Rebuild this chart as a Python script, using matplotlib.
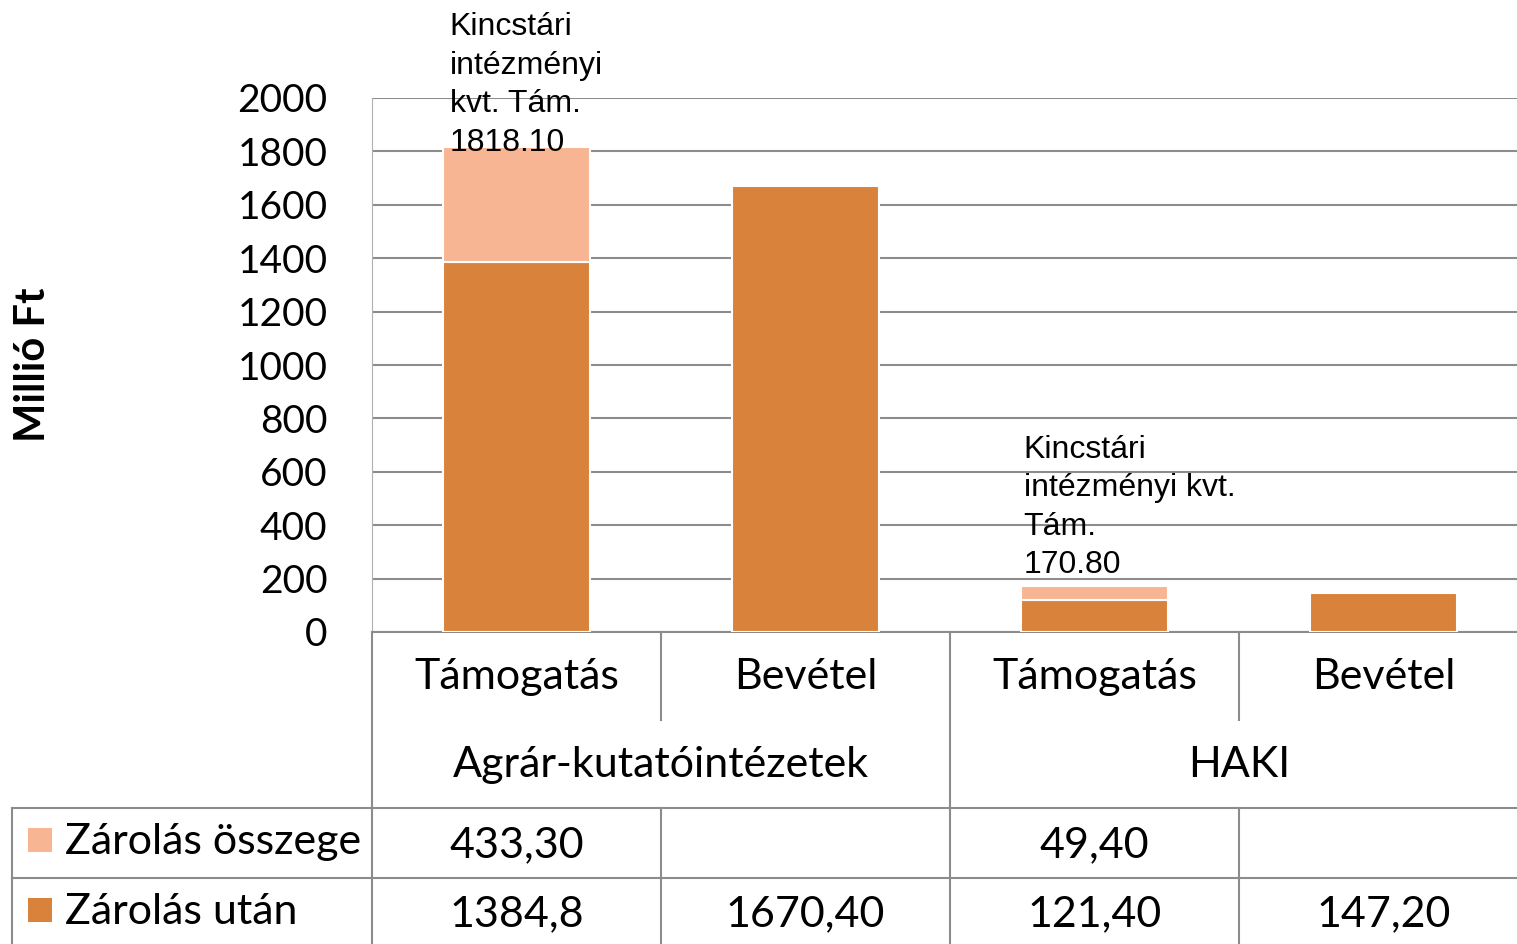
import numpy as np
import matplotlib.pyplot as plt
from matplotlib.lines import Line2D
from matplotlib.patches import Rectangle
import matplotlib.transforms as mtransforms

# data (Millió Ft)
categories = ['Támogatás', 'Bevétel', 'Támogatás', 'Bevétel']
groups = ['Agrár-kutatóintézetek', 'HAKI']
series_names = ['Zárolás összege', 'Zárolás után']
zarolas_utan = [1384.8, 1670.4, 121.4, 147.2]
zarolas_osszege = [433.3, 0.0, 49.4, 0.0]
table_utan = ['1384,8', '1670,40', '121,40', '147,20']
table_osszege = ['433,30', '', '49,40', '']
yticks = list(range(0, 2001, 200))

dark = '#D9823B'
light = '#F8B593'
grid_col = '#8c8c8c'

W, H = 1517, 944
fig = plt.figure(figsize=(W / 100, H / 100), dpi=100)


def fx(px):
    return px / W


def fy(py):
    return 1 - py / H


ax = fig.add_axes([fx(372), fy(632), 1156 / W, 534 / H])
x = np.arange(len(categories))
bw = 0.512

ax.bar(x, zarolas_utan, width=bw, color=dark, edgecolor='white', linewidth=1.5, zorder=3)
for i, v in enumerate(zarolas_osszege):
    if v > 0:
        ax.bar(x[i], v, bottom=zarolas_utan[i], width=bw, color=light,
               edgecolor='white', linewidth=1.5, zorder=3)

ax.set_xlim(-0.5, 3.5)
ax.set_ylim(0, 2000)
ax.set_yticks(yticks)
ax.set_xticks([])
ax.yaxis.grid(True, color=grid_col, linewidth=1.5)
ax.set_axisbelow(True)
for s in ['top', 'right']:
    ax.spines[s].set_visible(False)
ax.spines['left'].set_color('#b0b0b0')
ax.spines['bottom'].set_color(grid_col)
ax.spines['bottom'].set_linewidth(1.5)
ax.tick_params(axis='y', length=0, pad=32, labelsize=28)
for lab in ax.get_yticklabels():
    lab.set_fontfamily('Lato')

fig.text(fx(33), fy(365), 'Millió Ft', rotation=90, fontweight='bold', fontsize=30,
         family='Lato', ha='center', va='center')

# total labels on the stacked bars
totals = [u + o for u, o in zip(zarolas_utan, zarolas_osszege)]
ax.annotate('Kincstári\nintézményi\nkvt. Tám.\n%.2f' % totals[0],
            xy=(x[0] - bw / 2, totals[0]), xytext=(7, -11), textcoords='offset pixels',
            ha='left', va='bottom', fontsize=23, family='Liberation Sans',
            linespacing=1.37, annotation_clip=False)
ax.annotate('Kincstári\nintézményi kvt.\nTám.\n%.2f' % totals[2],
            xy=(x[2] - bw / 2, totals[2]), xytext=(3, 6), textcoords='offset pixels',
            ha='left', va='bottom', fontsize=23, family='Liberation Sans',
            linespacing=1.37, annotation_clip=False)

# data table below the axis
tb = mtransforms.blended_transform_factory(ax.transData, fig.transFigure)


def vline(xd, y0, y1):
    fig.add_artist(Line2D([xd, xd], [fy(y0), fy(y1)], transform=tb, color=grid_col, lw=1.5))


def hline(x0, y):
    fig.add_artist(Line2D([fx(x0), 1], [fy(y), fy(y)], transform=fig.transFigure,
                          color=grid_col, lw=1.5))


vline(-0.5, 632, 944)
vline(1.5, 632, 944)
for xd in [0.5, 2.5]:
    vline(xd, 632, 720)
    vline(xd, 808, 944)
hline(12, 808)
hline(12, 878)
fig.add_artist(Line2D([fx(12), fx(12)], [fy(808), fy(944)], transform=fig.transFigure,
                      color=grid_col, lw=1.5))

tfont = dict(family='Lato', fontsize=31, ha='center', va='center')
for i, c in enumerate(categories):
    fig.text(x[i], fy(677), c, transform=tb, **tfont)
for g, xd in zip(groups, [0.5, 2.5]):
    fig.text(xd, fy(765), g, transform=tb, **tfont)
for i in range(len(categories)):
    fig.text(x[i], fy(845), table_osszege[i], transform=tb, **tfont)
    fig.text(x[i], fy(914), table_utan[i], transform=tb, **tfont)

for name, col, py in zip(series_names, [light, dark], [840, 910]):
    fig.add_artist(Rectangle((fx(28), fy(py + 12)), 24 / W, 24 / H, transform=fig.transFigure,
                             facecolor=col, edgecolor='none'))
    fig.text(fx(65), fy(py + 2), name, family='Lato', fontsize=31, ha='left', va='center')

fig.savefig('out.png', dpi=100)
